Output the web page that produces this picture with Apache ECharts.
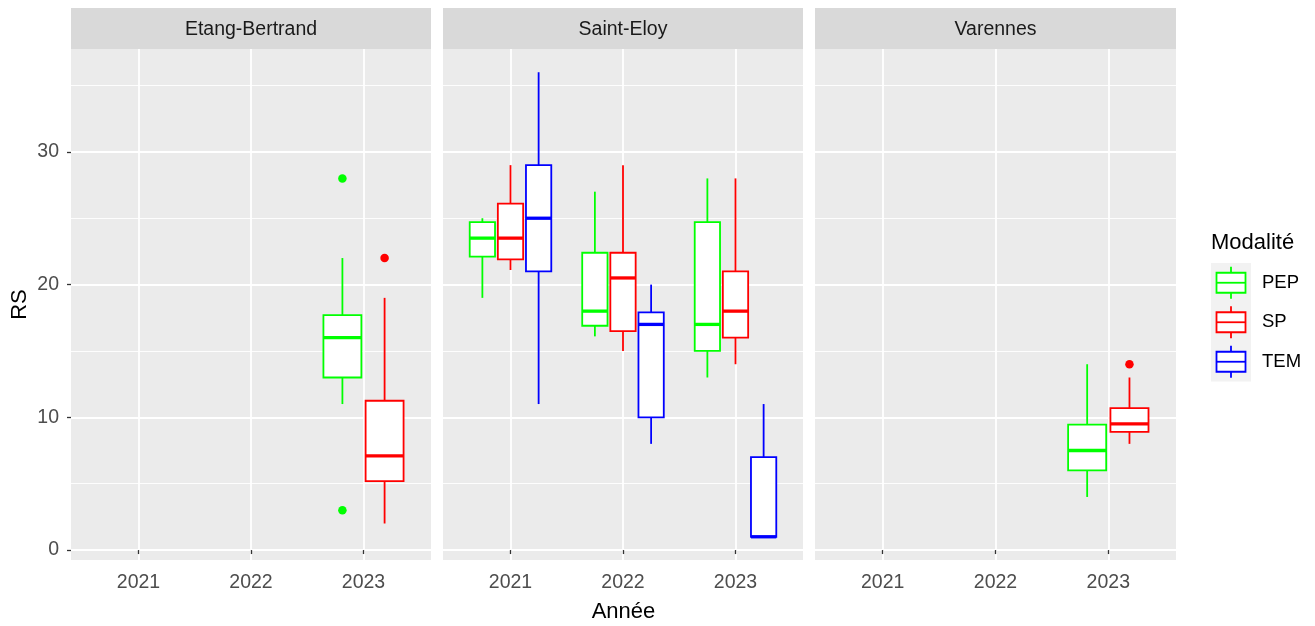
<!DOCTYPE html>
<html><head><meta charset="utf-8">
<script src="https://cdn.jsdelivr.net/npm/echarts@6/dist/echarts.min.js"></script>
<style>html,body{margin:0;padding:0;background:#fff}#c{width:1315px;height:626px}</style>
</head><body><div id="c"></div>
<script>
const panels = ['Etang-Bertrand', 'Saint-Eloy', 'Varennes'];
const years = ['2021', '2022', '2023'];
const modalites = ['PEP', 'SP', 'TEM'];
const modColors = ['#00FF00', '#FF0000', '#0000FF'];
const yTicks = [0, 10, 20, 30];
const yMinor = [5, 15, 25, 35];
const xTitle = 'Année';
const yTitle = 'RS';
const legendTitle = 'Modalité';

// box statistics: [year, modality, lower whisker, Q1, median, Q3, upper whisker]
const statsEtangBertrand = [
  ['2023', 'PEP', 11, 13, 16, 17.7, 22],
  ['2023', 'SP', 2, 5.2, 7.1, 11.25, 19]
];
const statsSaintEloy = [
  ['2021', 'PEP', 19, 22.1, 23.5, 24.7, 25],
  ['2021', 'SP', 21.1, 21.9, 23.5, 26.1, 29],
  ['2021', 'TEM', 11, 21, 25, 29, 36],
  ['2022', 'PEP', 16.1, 16.9, 18, 22.4, 27],
  ['2022', 'SP', 15, 16.5, 20.5, 22.4, 29],
  ['2022', 'TEM', 8, 10, 17, 17.9, 20],
  ['2023', 'PEP', 13, 15, 17, 24.7, 28],
  ['2023', 'SP', 14, 16, 18, 21, 28],
  ['2023', 'TEM', 1, 1, 1, 7, 11]
];
const statsVarennes = [
  ['2023', 'PEP', 4, 6, 7.5, 9.45, 14],
  ['2023', 'SP', 8, 8.9, 9.5, 10.7, 13]
];
// outliers: [year, modality, value]
const outEtangBertrand = [['2023', 'PEP', 28], ['2023', 'PEP', 3], ['2023', 'SP', 22]];
const outSaintEloy = [];
const outVarennes = [['2023', 'SP', 14]];

const panelStats = [statsEtangBertrand, statsSaintEloy, statsVarennes];
const panelOut = [outEtangBertrand, outSaintEloy, outVarennes];

// ---- layout ----
const FONT = 'Liberation Sans, Arial, sans-serif';
const gridLeft = [71, 443, 815];
const gridWidth = [360, 360, 361];
const gridTop = 49, gridHeight = 511;
const stripTop = 8, stripH = 41;
const DODGE_W = 0.75;

function dodge(stats, year, mod) {
  const present = modalites.filter(m => stats.some(s => s[0] === year && s[1] === m));
  const n = present.length, i = present.indexOf(mod);
  const slot = DODGE_W / n;
  const xi = years.indexOf(year) + 1;
  return { cx: xi - DODGE_W / 2 + slot * (i + 0.5), hw: slot * 0.9 / 2 };
}

function renderBox(params, api) {
  const cx = api.value(0), hw = api.value(1);
  const L = api.coord([cx - hw, 0])[0], R = api.coord([cx + hw, 0])[0], C = api.coord([cx, 0])[0];
  const y = k => api.coord([cx, api.value(k)])[1];
  const yl = y(2), y1 = y(3), ym = y(4), y3 = y(5), yu = y(6);
  const col = api.visual('color');
  const lw = 1.8;
  return {
    type: 'group', children: [
      { type: 'line', shape: { x1: C, y1: yu, x2: C, y2: y3 }, style: { stroke: col, lineWidth: lw } },
      { type: 'line', shape: { x1: C, y1: y1, x2: C, y2: yl }, style: { stroke: col, lineWidth: lw } },
      { type: 'rect', shape: { x: L, y: y3, width: R - L, height: y1 - y3 }, style: { fill: '#fff', stroke: col, lineWidth: lw } },
      { type: 'line', shape: { x1: L, y1: ym, x2: R, y2: ym }, style: { stroke: col, lineWidth: 3.3 } }
    ]
  };
}

const grids = [], xAxes = [], yAxes = [], series = [], graphics = [];
panels.forEach((p, i) => {
  grids.push({ left: gridLeft[i], top: gridTop, width: gridWidth[i], height: gridHeight, show: true, backgroundColor: '#EBEBEB', borderWidth: 0 });
  xAxes.push({
    gridIndex: i, type: 'value', min: 0.4, max: 3.6,
    axisLine: { show: false },
    axisTick: { show: true, customValues: [1, 2, 3], length: 4, lineStyle: { color: '#333', width: 1.3 } },
    axisLabel: { customValues: [1, 2, 3], formatter: v => years[Math.round(v) - 1], color: '#4d4d4d', fontSize: 19.5, fontFamily: FONT, margin: 13 },
    splitLine: { show: true, lineStyle: { color: '#fff', width: 1.8 } }
  });
  yAxes.push({
    gridIndex: i, type: 'value', min: -0.75, max: 37.75,
    axisLine: { show: false },
    axisTick: { show: i === 0, customValues: yTicks, length: 4, lineStyle: { color: '#333', width: 1.3 } },
    axisLabel: { show: i === 0, customValues: yTicks, color: '#4d4d4d', fontSize: 19.5, fontFamily: FONT, margin: 12 },
    splitLine: { show: true, lineStyle: { color: '#fff', width: 1.8 } }
  });
  yAxes.push({
    gridIndex: i, type: 'value', min: -0.75, max: 37.75,
    axisLine: { show: false },
    axisTick: { show: false, customValues: yMinor },
    axisLabel: { show: false, customValues: yMinor },
    splitLine: { show: true, lineStyle: { color: '#fff', width: 0.9 } }
  });
  const st = panelStats[i];
  modalites.forEach((m, mi) => {
    const boxData = st.filter(s => s[1] === m).map(s => {
      const d = dodge(st, s[0], m);
      return [d.cx, d.hw, s[2], s[3], s[4], s[5], s[6]];
    });
    if (boxData.length) {
      series.push({
        type: 'custom', name: m, xAxisIndex: i, yAxisIndex: 2 * i,
        itemStyle: { color: modColors[mi] }, renderItem: renderBox,
        encode: { x: 0, y: [2, 3, 4, 5, 6] }, data: boxData, silent: true, z: 3
      });
    }
    const outData = panelOut[i].filter(o => o[1] === m).map(o => [dodge(st, o[0], m).cx, o[2]]);
    if (outData.length) {
      series.push({
        type: 'scatter', name: m, xAxisIndex: i, yAxisIndex: 2 * i,
        symbolSize: 8.5, itemStyle: { color: modColors[mi], opacity: 1 }, data: outData, silent: true, z: 4
      });
    }
  });
  // facet strip
  graphics.push({ type: 'rect', left: gridLeft[i], top: stripTop, shape: { width: gridWidth[i], height: stripH }, style: { fill: '#D9D9D9' } });
  graphics.push({ type: 'text', x: gridLeft[i] + gridWidth[i] / 2, y: stripTop + stripH / 2 + 1,
    style: { text: p, fill: '#1a1a1a', font: '19.5px ' + FONT, align: 'center', verticalAlign: 'middle' } });
});

// axis titles
graphics.push({ type: 'text', x: (gridLeft[0] + gridLeft[2] + gridWidth[2]) / 2, y: 612,
  style: { text: xTitle, fill: '#000', font: '22px ' + FONT, align: 'center', verticalAlign: 'middle' } });
graphics.push({ type: 'text', x: 20, y: gridTop + gridHeight / 2, rotation: Math.PI / 2,
  style: { text: yTitle, fill: '#000', font: '22px ' + FONT, align: 'center', verticalAlign: 'middle' } });

// legend
const lgX = 1211, lgY = 263, cellW = 40, cellH = 39.5;
graphics.push({ type: 'text', x: 1211, y: 243,
  style: { text: legendTitle, fill: '#000', font: '22px ' + FONT, align: 'left', verticalAlign: 'middle' } });
graphics.push({ type: 'rect', x: lgX, y: lgY, shape: { width: cellW, height: cellH * modalites.length }, style: { fill: '#F2F2F2' } });
modalites.forEach((m, k) => {
  const cy = lgY + cellH * k + cellH / 2;
  const c = modColors[k];
  graphics.push({ type: 'line', shape: { x1: lgX + cellW / 2, y1: cy - 16, x2: lgX + cellW / 2, y2: cy + 16 }, style: { stroke: c, lineWidth: 1.8 } });
  graphics.push({ type: 'rect', shape: { x: lgX + 5.5, y: cy - 10, width: cellW - 11, height: 20 }, style: { fill: '#fff', stroke: c, lineWidth: 1.8 } });
  graphics.push({ type: 'line', shape: { x1: lgX + 5.5, y1: cy, x2: lgX + cellW - 5.5, y2: cy }, style: { stroke: c, lineWidth: 1.8 } });
  graphics.push({ type: 'text', x: 1262, y: cy, style: { text: m, fill: '#000', font: '18.5px ' + FONT, align: 'left', verticalAlign: 'middle' } });
});

const chart = echarts.init(document.getElementById('c'), null, { renderer: 'canvas' });
chart.setOption({
  animation: false,
  backgroundColor: '#fff',
  grid: grids, xAxis: xAxes, yAxis: yAxes, series: series, graphic: graphics
});
</script></body></html>
